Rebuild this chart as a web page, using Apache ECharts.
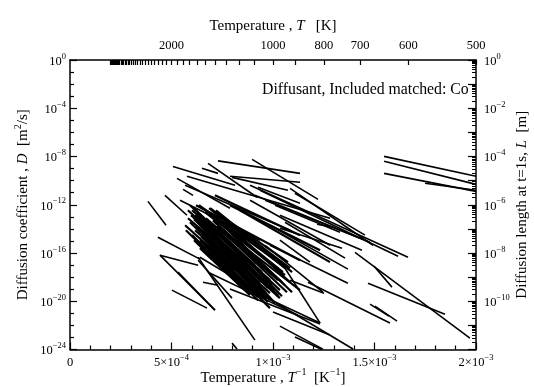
<!DOCTYPE html>
<html>
<head>
<meta charset="utf-8">
<script src="https://cdn.jsdelivr.net/npm/echarts@6/dist/echarts.min.js"></script>
<style>
html,body{margin:0;padding:0;background:#fff;}
#chart{width:534px;height:387px;}
</style>
</head>
<body>
<div id="chart"></div>
<script>
// ---- DATA ----
// Each segment: [1/T start (10^-3 K^-1), log10 D start, 1/T end (10^-3 K^-1), log10 D end]
const rightCluster = [
  [1.547, -7.99, 2.000, -9.64],
  [1.547, -8.40, 2.000, -10.31],
  [1.547, -9.40, 2.000, -10.89],
  [1.749, -10.22, 2.000, -10.80]
];
const upperLines = [
  [0.729, -8.36, 1.133, -9.40],
  [0.897, -8.24, 1.222, -11.55],
  [0.507, -8.82, 0.813, -10.39],
  [0.576, -9.64, 1.281, -13.12],
  [0.650, -8.98, 0.729, -9.40],
  [0.680, -8.57, 0.921, -11.38],
  [0.788, -9.64, 1.133, -10.14],
  [0.798, -9.73, 1.074, -10.80],
  [0.527, -9.81, 0.788, -12.29],
  [0.557, -10.72, 0.606, -11.22],
  [0.468, -11.22, 0.576, -12.87],
  [0.384, -11.72, 0.473, -13.70],
  [0.433, -14.69, 0.640, -16.51],
  [0.926, -10.55, 1.133, -11.88],
  [0.567, -10.39, 1.084, -14.11],
  [0.542, -11.63, 0.936, -14.94],
  [0.887, -11.63, 1.281, -15.36]
];
const midLines = [
  [1.108, -11.05, 1.453, -14.52],
  [1.084, -10.64, 1.493, -15.36],
  [0.887, -10.39, 1.665, -16.35],
  [0.936, -10.80, 1.616, -16.27],
  [1.034, -12.87, 1.438, -15.77],
  [1.034, -13.95, 1.340, -15.60],
  [1.217, -13.62, 1.296, -13.87],
  [0.985, -13.70, 1.369, -17.34],
  [1.034, -14.94, 1.182, -16.76],
  [0.985, -15.36, 1.369, -18.50],
  [0.961, -15.36, 1.246, -19.25],
  [1.404, -15.94, 1.970, -23.05],
  [1.468, -18.50, 1.847, -21.07],
  [1.498, -17.09, 1.586, -18.83],
  [1.084, -18.25, 1.251, -19.33],
  [1.034, -16.60, 1.232, -21.81],
  [1.000, -20.90, 1.281, -22.80],
  [0.887, -19.08, 1.232, -21.81],
  [1.034, -22.06, 1.246, -23.97],
  [1.108, -22.97, 1.241, -24.00],
  [1.502, -20.41, 1.611, -21.65],
  [1.478, -20.24, 1.571, -21.23],
  [1.172, -18.42, 1.576, -21.81],
  [0.911, -11.22, 1.429, -14.78],
  [0.961, -11.63, 1.478, -15.11],
  [1.010, -12.04, 1.330, -14.28],
  [1.059, -13.45, 1.355, -16.43]
];
const denseBand = [
  [0.591, -12.04, 0.911, -17.01],
  [0.601, -12.46, 0.946, -17.59],
  [0.616, -12.87, 0.985, -18.25],
  [0.631, -13.29, 1.010, -19.08],
  [0.640, -13.70, 1.034, -19.74],
  [0.616, -14.11, 0.961, -19.25],
  [0.601, -14.52, 0.926, -19.91],
  [0.665, -12.62, 1.059, -17.84],
  [0.690, -12.29, 1.084, -17.26],
  [0.640, -14.94, 0.946, -19.74],
  [0.680, -14.11, 1.025, -19.50],
  [0.714, -13.45, 1.044, -18.42],
  [0.581, -13.12, 0.837, -16.76],
  [0.567, -13.70, 0.813, -17.42],
  [0.665, -15.36, 0.887, -19.08],
  [0.739, -12.87, 1.074, -16.76],
  [0.700, -15.77, 0.985, -20.57],
  [0.764, -14.28, 1.133, -19.08],
  [0.621, -12.04, 1.133, -16.60],
  [0.788, -12.04, 1.232, -15.77],
  [0.837, -12.46, 1.281, -16.76],
  [0.714, -11.22, 1.133, -14.52],
  [0.606, -12.21, 0.926, -17.43],
  [0.626, -12.62, 0.961, -17.92],
  [0.640, -13.04, 0.995, -18.59],
  [0.655, -13.45, 0.975, -18.91],
  [0.591, -13.45, 0.887, -18.25],
  [0.621, -13.79, 0.926, -18.75],
  [0.650, -14.28, 0.946, -19.41],
  [0.675, -14.69, 0.966, -19.74],
  [0.700, -13.79, 1.034, -19.08],
  [0.729, -14.11, 1.044, -19.58],
  [0.670, -13.12, 1.025, -18.25],
  [0.695, -12.79, 1.049, -17.59],
  [0.611, -14.94, 0.862, -19.08],
  [0.640, -15.60, 0.887, -19.49],
  [0.714, -14.94, 0.985, -19.91],
  [0.749, -15.27, 1.010, -20.16],
  [0.581, -12.46, 0.911, -17.59],
  [0.596, -12.87, 0.946, -18.25],
  [0.611, -13.20, 0.936, -18.50],
  [0.631, -13.95, 0.985, -19.33],
  [0.645, -14.61, 0.956, -19.58],
  [0.660, -15.11, 0.926, -19.66],
  [0.685, -15.27, 0.975, -20.07],
  [0.571, -14.11, 0.837, -18.50],
  [0.704, -13.29, 1.059, -18.67],
  [0.724, -13.78, 1.069, -19.25],
  [0.744, -14.61, 1.025, -19.58],
  [0.764, -13.45, 1.084, -18.42],
  [0.778, -14.11, 1.094, -19.25],
  [0.685, -12.29, 1.059, -17.26],
  [0.635, -12.04, 1.025, -16.76],
  [0.719, -12.46, 1.094, -17.59]
];
const lowerLines = [
  [0.640, -16.35, 1.394, -23.96],
  [0.788, -18.99, 1.232, -21.89],
  [0.443, -16.18, 0.714, -20.74],
  [0.532, -17.59, 0.714, -20.74],
  [0.502, -19.08, 0.675, -20.57],
  [0.631, -16.60, 0.798, -19.74],
  [0.655, -18.42, 0.729, -18.67],
  [0.680, -17.59, 1.123, -21.15],
  [0.798, -23.47, 0.823, -23.96],
  [0.631, -16.35, 0.911, -23.22],
  [0.443, -16.18, 0.631, -17.01]
];

// Axis tick values
const xLabelTexts = ['0', '5×10^−4', '1×10^−3', '1.5×10^−3', '2×10^−3'];
const tempTickStepK = 100;
const tempTickMinK = 500;
const tempTickMaxK = 5000;
const tempLabelsK = [2000, 1000, 800, 700, 600, 500];
const lengthLabelExps = [0, -2, -4, -6, -8, -10];
const titleText = 'Diffusant, Included matched: Co';

// ---- BUILD ----
const FONT = '"Liberation Serif", "Times New Roman", serif';
const toLines = arr => arr.map(s => ({coords: [[s[0] * 1e-3, s[1]], [s[2] * 1e-3, s[3]]]}));
const sparseData = toLines([].concat(rightCluster, upperLines, midLines, lowerLines));
const denseData = toLines(denseBand);

const tempTicks = [];
for (let T = tempTickMinK; T <= tempTickMaxK; T += tempTickStepK) tempTicks.push(1 / T);
const tempLabelVals = tempLabelsK.map(T => 1 / T);

const lenMinor = [];
for (let n = -12; n < 0; n++) for (let k = 2; k <= 9; k++) lenMinor.push(n + Math.log10(k));
const lenMajor = [];
for (let n = -12; n <= 0; n++) lenMajor.push(n);

const richNum = {
  b: {fontFamily: FONT, fontSize: 12.5, color: '#000', lineHeight: 16, verticalAlign: 'bottom'},
  s: {fontFamily: FONT, fontSize: 8.5, color: '#000', lineHeight: 9, verticalAlign: 'top'}
};
const richName = {
  t: {fontFamily: FONT, fontSize: 15, color: '#000', lineHeight: 18, verticalAlign: 'bottom'},
  i: {fontFamily: FONT, fontSize: 15, fontStyle: 'italic', color: '#000', lineHeight: 18, verticalAlign: 'bottom'},
  s: {fontFamily: FONT, fontSize: 10, color: '#000', lineHeight: 10, verticalAlign: 'top'}
};
function pow10(v) {
  const e = Math.round(v);
  return '{b|10}{s|' + (e === 0 ? '0' : '−' + (-e)) + '}';
}
function xLabel(v) {
  const idx = Math.round(v / 0.0005);
  const t = xLabelTexts[idx];
  if (t === undefined) return '';
  const parts = t.split('^');
  return parts.length === 1 ? '{b|' + parts[0] + '}' : '{b|' + parts[0] + '}{s|' + parts[1] + '}';
}
const blk = '#000';
const chart = echarts.init(document.getElementById('chart'), null, {renderer: 'canvas'});
chart.setOption({
  animation: false,
  backgroundColor: '#fff',
  grid: {left: 70, right: 58, top: 60, bottom: 37.5, containLabel: false, outerBoundsMode: 'none'},
  graphic: [{
    type: 'text', left: 262, top: 82,
    style: {text: titleText, font: '15.8px ' + FONT, fill: '#000'}
  }],
  xAxis: [{
    type: 'value', min: 0, max: 0.002, interval: 0.0005, position: 'bottom',
    axisLine: {onZero: false, lineStyle: {color: blk, width: 1.5}},
    axisTick: {inside: true, length: 7, lineStyle: {color: blk, width: 1.2}},
    minorTick: {show: true, splitNumber: 5, length: 4, lineStyle: {color: blk, width: 1.2}},
    splitLine: {show: false},
    axisLabel: {margin: 4, formatter: xLabel, rich: richNum, showMinLabel: true, showMaxLabel: true},
    name: '{t|Temperature , }{i|T}{s|−1}{t|  [K}{s|−1}{t|]}',
    nameLocation: 'middle', nameGap: 18, nameMoveOverlap: false, nameTextStyle: {rich: richName}
  }, {
    type: 'value', min: 0, max: 0.002, position: 'top',
    axisLine: {onZero: false, lineStyle: {color: blk, width: 1.5}},
    axisTick: {inside: true, length: 5, customValues: tempTicks, lineStyle: {color: blk, width: 1.2}},
    splitLine: {show: false},
    axisLabel: {margin: 8, customValues: tempLabelVals, formatter: v => '{b|' + Math.round(1 / v) + '}', rich: richNum},
    name: '{t|Temperature , }{i|T}{t|   [K]}',
    nameLocation: 'middle', nameGap: 26, nameMoveOverlap: false, nameTextStyle: {rich: richName}
  }],
  yAxis: [{
    type: 'value', min: -24, max: 0, interval: 4, position: 'left',
    axisLine: {onZero: false, lineStyle: {color: blk, width: 1.5}},
    axisTick: {inside: true, length: 7, lineStyle: {color: blk, width: 1.2}},
    minorTick: {show: true, splitNumber: 4, length: 4, lineStyle: {color: blk, width: 1.2}},
    splitLine: {show: false},
    axisLabel: {margin: 4, formatter: pow10, rich: richNum},
    name: '{t|Diffusion coefficient , }{i|D}{t|  [m}{s|2}{t|/s]}',
    nameLocation: 'middle', nameGap: 39, nameRotate: 90, nameMoveOverlap: false, nameTextStyle: {rich: richName}
  }, {
    type: 'value', min: -12, max: 0, interval: 2, position: 'right',
    axisLine: {onZero: false, lineStyle: {color: blk, width: 1.5}},
    axisTick: {inside: true, length: 8, customValues: lenMajor, lineStyle: {color: blk, width: 1.2}},
    splitLine: {show: false},
    axisLabel: {margin: 8, customValues: lengthLabelExps, formatter: pow10, rich: richNum},
    name: '{t|Diffusion length at t=1s, }{i|L}{t|  [m]}',
    nameLocation: 'middle', nameGap: 36, nameRotate: 90, nameMoveOverlap: false, nameTextStyle: {rich: richName}
  }, {
    type: 'value', min: -12, max: 0, position: 'right',
    axisLine: {show: false, onZero: false},
    axisTick: {inside: true, length: 4, customValues: lenMinor, lineStyle: {color: blk, width: 1}},
    splitLine: {show: false},
    axisLabel: {show: false}
  }],
  series: [{
    type: 'lines', coordinateSystem: 'cartesian2d', xAxisIndex: 0, yAxisIndex: 0,
    polyline: false, silent: true,
    lineStyle: {color: '#000', width: 1.6, opacity: 1, curveness: 0},
    data: sparseData
  }, {
    type: 'lines', coordinateSystem: 'cartesian2d', xAxisIndex: 0, yAxisIndex: 0,
    polyline: false, silent: true,
    lineStyle: {color: '#000', width: 2.2, opacity: 1, curveness: 0},
    data: denseData
  }]
});
</script>
</body>
</html>
